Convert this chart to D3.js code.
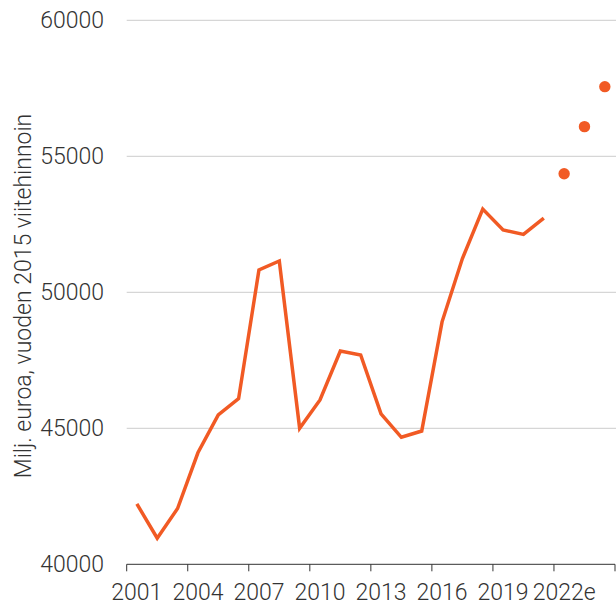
<!DOCTYPE html>
<html>
<head>
<meta charset="utf-8">
<script src="https://cdn.jsdelivr.net/npm/d3@7"></script>
<style>
  html, body { margin: 0; padding: 0; background: #fff; }
  svg { display: block; }
  text { font-family: Roboto, "Noto Sans", sans-serif; font-weight: 300; fill: #333; }
</style>
</head>
<body>
<svg id="chart" width="616" height="605"></svg>
<script>
const years = ["2001","2002","2003","2004","2005","2006","2007","2008","2009","2010","2011","2012","2013","2014","2015","2016","2017","2018","2019","2020","2021","2022e","2023e","2024e"];
const actualYears = ["2001","2002","2003","2004","2005","2006","2007","2008","2009","2010","2011","2012","2013","2014","2015","2016","2017","2018","2019","2020","2021"];
const actualValues = [42220,40960,42050,44100,45490,46090,50820,51150,45000,46040,47840,47695,45530,44670,44900,48915,51240,53060,52290,52130,52730];
const forecastYears = ["2022e","2023e","2024e"];
const forecastValues = [54360,56090,57560];
const yTicks = [40000,45000,50000,55000,60000];
const xTickLabels = ["2001","2004","2007","2010","2013","2016","2019","2022e"];
const yTitle = "Milj. euroa, vuoden 2015 viitehinnoin";

const svg = d3.select("#chart");
const mLeft = 126.7, mRight = 615, mTop = 20.3, mBottom = 564.3;
const color = "#f15a24";
const fs = 23;

const x = d3.scaleBand().domain(years).range([mLeft, mRight]).padding(0);
const cx = d => x(d) + x.bandwidth() / 2;
const y = d3.scaleLinear().domain([40000, 60000]).range([mBottom, mTop]);

// gridlines
svg.append("g").selectAll("line").data(yTicks.filter(t => t !== 40000)).join("line")
  .attr("x1", mLeft).attr("x2", 616)
  .attr("y1", d => y(d)).attr("y2", d => y(d))
  .attr("stroke", "#cccccc").attr("stroke-width", 1);

// y labels
svg.append("g").selectAll("text").data(yTicks).join("text")
  .attr("x", 104).attr("y", d => y(d)).attr("dy", "0.35em")
  .attr("text-anchor", "end").attr("font-size", fs)
  .text(d => d);

// y title
svg.append("text")
  .attr("transform", `translate(31,296) rotate(-90)`)
  .attr("text-anchor", "middle").attr("font-size", fs)
  .text(yTitle);

// x axis
const xg = svg.append("g");
xg.append("line").attr("x1", mLeft).attr("x2", mRight).attr("y1", mBottom).attr("y2", mBottom)
  .attr("stroke", "#333").attr("stroke-width", 1);
const tickPos = xTickLabels.map(d => x(d)).concat([mRight]);
xg.selectAll("line.tick").data(tickPos).join("line").attr("class", "tick")
  .attr("x1", d => d).attr("x2", d => d).attr("y1", mBottom).attr("y2", mBottom + 7)
  .attr("stroke", "#333").attr("stroke-width", 1);
xg.selectAll("text").data(xTickLabels).join("text")
  .attr("x", d => cx(d)).attr("y", 600).attr("text-anchor", "middle")
  .attr("font-size", fs)
  .text(d => d);

// line
const line = d3.line().x(d => cx(d[0])).y(d => y(d[1]));
svg.append("path").datum(actualYears.map((yr, i) => [yr, actualValues[i]]))
  .attr("d", line).attr("fill", "none").attr("stroke", color)
  .attr("stroke-width", 3.5).attr("stroke-linejoin", "miter");

// forecast dots
svg.append("g").selectAll("circle").data(forecastYears.map((yr, i) => [yr, forecastValues[i]])).join("circle")
  .attr("cx", d => cx(d[0])).attr("cy", d => y(d[1])).attr("r", 5.7)
  .attr("fill", color);
</script>
</body>
</html>
